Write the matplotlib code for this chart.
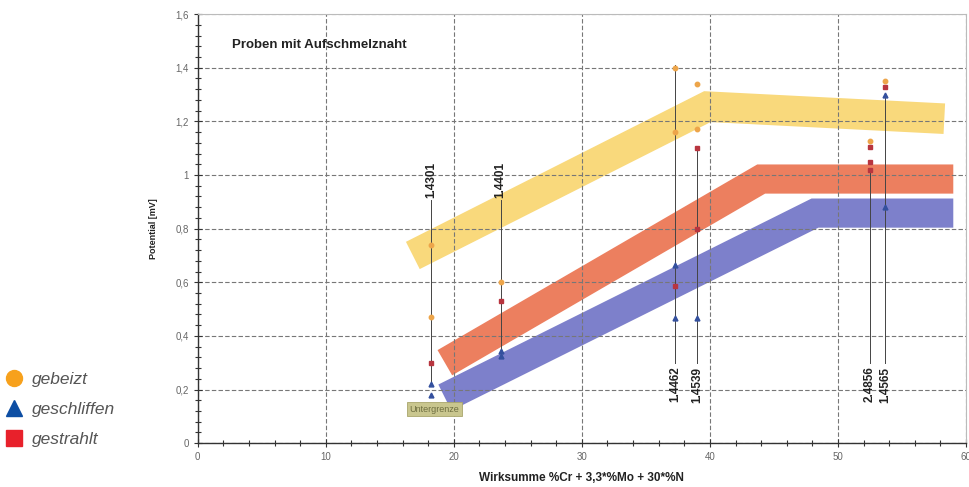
import matplotlib

matplotlib.use("Agg")
import matplotlib.pyplot as plt
from matplotlib.lines import Line2D
from matplotlib.ticker import MultipleLocator, FuncFormatter

plt.rcParams["font.family"] = ["Liberation Sans", "DejaVu Sans"]

# Streubänder (Mittellinie) je Oberflächenzustand
band_gebeizt_x = [16.8, 39.8, 58.3]
band_gebeizt_y = [0.70, 1.255, 1.21]
band_gestrahlt_x = [19.3, 44.0, 59.0]
band_gestrahlt_y = [0.30, 0.985, 0.985]
band_geschliffen_x = [19.3, 48.2, 59.0]
band_geschliffen_y = [0.17, 0.858, 0.858]

# Werkstoffe: Wirksumme und Messbereich der Hilfslinie
grades = ["1.4301", "1.4401", "1.4462", "1.4539", "2.4856", "1.4565"]
grade_x = [18.2, 23.65, 37.3, 39.0, 52.5, 53.7]
line_lo = [0.22, 0.33, 0.30, 0.30, 0.30, 0.30]
line_hi = [0.905, 0.905, 1.41, 1.10, 1.02, 1.30]
label_above = [True, True, False, False, False, False]

# Messpunkte
gebeizt_x = [18.2, 18.2, 23.65, 37.3, 37.3, 39.0, 39.0, 52.5, 53.7]
gebeizt_y = [0.74, 0.47, 0.60, 1.40, 1.16, 1.34, 1.17, 1.125, 1.35]
geschliffen_x = [18.2, 18.2, 23.65, 23.65, 37.3, 37.3, 39.0, 53.7, 53.7]
geschliffen_y = [0.22, 0.18, 0.345, 0.325, 0.665, 0.465, 0.465, 1.30, 0.88]
gestrahlt_x = [18.2, 23.65, 37.3, 39.0, 39.0, 52.5, 52.5, 52.5, 53.7]
gestrahlt_y = [0.30, 0.53, 0.585, 1.10, 0.80, 1.105, 1.05, 1.02, 1.33]

fig = plt.figure(figsize=(9.69, 4.87), dpi=100)
ax = fig.add_axes([0.204, 0.090, 0.793, 0.881])

band_kw = dict(solid_capstyle="butt", solid_joinstyle="miter", zorder=1)
ax.plot(band_gebeizt_x, band_gebeizt_y, color="#F9D97C", lw=22, **band_kw)
ax.plot(band_gestrahlt_x, band_gestrahlt_y, color="#EC7F5F", lw=21, **band_kw)
ax.plot(band_geschliffen_x, band_geschliffen_y, color="#7D80CB", lw=21, **band_kw)

for name, x, lo, hi, above in zip(grades, grade_x, line_lo, line_hi, label_above):
    ax.plot([x, x], [lo, hi], color="#444444", lw=0.7, zorder=2)
    if above:
        ax.text(x, 0.915, name, rotation=90, ha="center", va="bottom",
                fontsize=8.5, fontweight="bold", color="#222222")
    else:
        ax.text(x, 0.285, name, rotation=90, ha="center", va="top",
                fontsize=8.5, fontweight="bold", color="#222222")

ax.plot(gebeizt_x, gebeizt_y, "o", ms=3.2, color="#EDA54A", zorder=3)
ax.plot(geschliffen_x, geschliffen_y, "^", ms=3.5, color="#34509E", zorder=3)
ax.plot(gestrahlt_x, gestrahlt_y, "s", ms=3.0, color="#B8353F", zorder=3)

ax.text(2.7, 1.485, "Proben mit Aufschmelznaht", fontsize=9.5, fontweight="bold",
        color="#222222", va="center")
ax.text(18.5, 0.127, "Untergrenze", fontsize=6.5, color="#6E6E40", ha="center", va="center",
        bbox=dict(boxstyle="square,pad=0.25", fc="#C9C68E", ec="#A9A66C", lw=0.6))

ax.set_xlim(0, 60)
ax.set_ylim(0, 1.6)
ax.xaxis.set_major_locator(MultipleLocator(10))
ax.xaxis.set_minor_locator(MultipleLocator(2))
ax.yaxis.set_major_locator(MultipleLocator(0.2))
ax.yaxis.set_minor_locator(MultipleLocator(0.04))
ax.yaxis.set_major_formatter(FuncFormatter(lambda v, _: f"{v:g}".replace(".", ",")))
ax.tick_params(which="both", direction="inout", colors="#333333", labelcolor="#666666",
               labelsize=7, width=0.8)
ax.tick_params(which="major", length=6)
ax.tick_params(which="minor", length=4)
ax.set_axisbelow("line")
ax.grid(which="major", color="#777777", lw=0.8, linestyle=(0, (4, 2)))

for side in ("left", "bottom"):
    ax.spines[side].set_color("#333333")
    ax.spines[side].set_linewidth(1.0)
for side in ("top", "right"):
    ax.spines[side].set_color("#BBBBBB")
    ax.spines[side].set_linewidth(0.8)

ax.set_xlabel("Wirksumme %Cr + 3,3*%Mo + 30*%N", fontsize=8.5, fontweight="bold",
              color="#222222", labelpad=7)
ax.set_ylabel("Potential [mV]", fontsize=6.5, fontweight="bold", color="#222222", labelpad=12)

handles = [
    Line2D([], [], marker="o", ls="", ms=11.5, color="#F7A11C"),
    Line2D([], [], marker="^", ls="", ms=11.5, color="#0D4EA3"),
    Line2D([], [], marker="s", ls="", ms=11, color="#E8212B"),
]
fig.legend(handles, ["gebeizt", "geschliffen", "gestrahlt"], loc="upper left",
           bbox_to_anchor=(0.0, 0.2515), borderaxespad=0, frameon=False,
           handlelength=0.8, handletextpad=0.63, labelspacing=0.88,
           prop=dict(style="italic", size=12.5), labelcolor="#555555")

fig.savefig("out.png", dpi=100)
plt.close(fig)
